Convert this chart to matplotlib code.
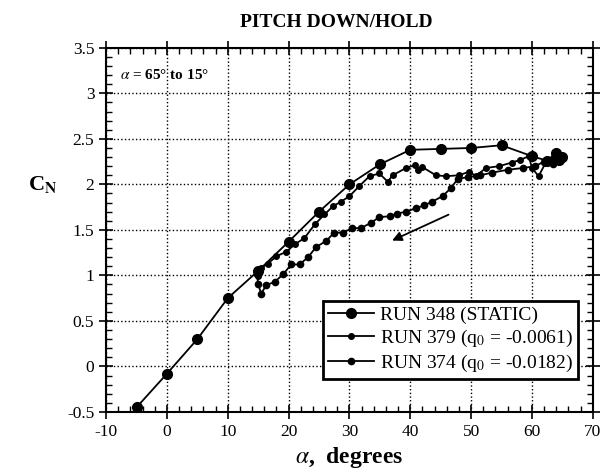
import matplotlib.pyplot as plt
from matplotlib.ticker import MultipleLocator, FormatStrFormatter

# run 348, static
alpha_348 = [-5, 0, 5, 10, 15, 20, 25, 30, 35, 40, 45, 50, 55, 60, 62.5, 64, 65, 64.5]
cn_348 = [-0.45, -0.08, 0.30, 0.75, 1.05, 1.37, 1.70, 2.00, 2.22, 2.38, 2.39, 2.40, 2.43, 2.31, 2.26, 2.35, 2.30, 2.27]

# run 379, q0 = -0.0061 (pitch down 65 -> 15)
alpha_379 = [64.7, 63.9, 63.3, 62.2, 61.1, 60.0, 59.5, 58.1, 56.7, 54.6, 52.4, 50.8, 49.7, 48.0,
             45.9, 44.2, 42.0, 41.2, 40.7, 39.3, 37.1, 36.3, 34.9, 33.3, 31.6, 30.0, 28.6, 27.3,
             25.9, 24.3, 22.6, 21.0, 19.6, 18.0, 16.6, 15.5, 14.9, 14.8]
cn_379 = [2.29, 2.34, 2.27, 2.23, 2.09, 2.18, 2.31, 2.27, 2.24, 2.20, 2.18, 2.09, 2.14, 2.10,
          2.09, 2.10, 2.19, 2.16, 2.21, 2.18, 2.10, 2.03, 2.12, 2.09, 1.98, 1.87, 1.81, 1.76,
          1.67, 1.56, 1.41, 1.34, 1.26, 1.21, 1.13, 1.08, 0.99, 1.05]

# run 374, q0 = -0.0182
alpha_374 = [65.0, 63.5, 62.0, 60.5, 58.5, 56.0, 53.5, 51.5, 49.5, 47.8, 46.7, 45.3, 43.6, 42.3,
             41.0, 39.3, 37.9, 36.6, 34.9, 33.6, 31.9, 30.5, 28.9, 27.5, 26.2, 24.5, 23.2, 21.8,
             20.4, 19.1, 17.7, 16.3, 15.5, 15.0, 14.8]
cn_374 = [2.30, 2.22, 2.25, 2.20, 2.18, 2.16, 2.13, 2.10, 2.08, 2.06, 1.96, 1.87, 1.81, 1.77,
          1.74, 1.70, 1.68, 1.65, 1.64, 1.58, 1.52, 1.52, 1.47, 1.47, 1.38, 1.31, 1.20, 1.12,
          1.12, 1.01, 0.93, 0.89, 0.80, 0.90, 1.02]

labels = ['RUN 348 (STATIC)',
          r'RUN 379 (q$_0$ = -0.0061)',
          r'RUN 374 (q$_0$ = -0.0182)']

plt.rcParams['font.family'] = ['Liberation Serif', 'DejaVu Serif']
plt.rcParams['mathtext.fontset'] = 'stix'
plt.rcParams['axes.unicode_minus'] = False

fig = plt.figure(figsize=(6.03, 4.74), dpi=100)
ax = fig.add_axes([0.176, 0.131, 0.807, 0.768])

ax.plot(alpha_348, cn_348, '-o', color='black', lw=1.3, ms=7, label=labels[0])
ax.plot(alpha_379, cn_379, '-o', color='black', lw=1.3, ms=4, label=labels[1])
ax.plot(alpha_374, cn_374, '-o', color='black', lw=1.3, ms=4.5, label=labels[2])

# pitch-down direction arrow
ax.annotate('', xy=(36.6, 1.37), xytext=(46.7, 1.68),
            arrowprops=dict(arrowstyle='-|>', color='black', lw=1.3, mutation_scale=14))

ax.text(-7.8, 3.2, r'$\alpha$ = 65° to 15°', fontsize=11, fontweight='bold', va='center')

ax.set_xlim(-10, 70)
ax.set_ylim(-0.5, 3.5)
ax.xaxis.set_major_locator(MultipleLocator(10))
ax.xaxis.set_minor_locator(MultipleLocator(2))
ax.yaxis.set_major_locator(MultipleLocator(0.5))
ax.yaxis.set_minor_locator(MultipleLocator(0.1))
ax.yaxis.set_major_formatter(FormatStrFormatter('%g'))
ax.tick_params(which='major', direction='inout', length=10, width=1.2,
               top=True, right=True, labelsize=12.5)
ax.tick_params(which='minor', direction='in', length=4, width=1,
               top=True, right=True)
ax.grid(True, which='major', linestyle=':', color='black', lw=1)
for s in ax.spines.values():
    s.set_linewidth(1.5)

ax.set_title('PITCH DOWN/HOLD', fontsize=14, fontweight='bold', x=0.472, pad=15)
ax.set_xlabel(r'$\alpha$,  degrees', fontsize=17, fontweight='bold', labelpad=4)
ax.set_ylabel(r'C$_\mathbf{N}$', fontsize=16, fontweight='bold', rotation=0)
ax.yaxis.set_label_coords(-0.13, 0.595)

leg = ax.legend(loc='lower right', bbox_to_anchor=(0.99, 0.065), fontsize=14,
                handlelength=2.4, handletextpad=0.3, borderpad=0.25, labelspacing=0.2,
                fancybox=False, framealpha=1, edgecolor='black')
leg.get_frame().set_linewidth(2)

fig.savefig('out.png', dpi=100)
